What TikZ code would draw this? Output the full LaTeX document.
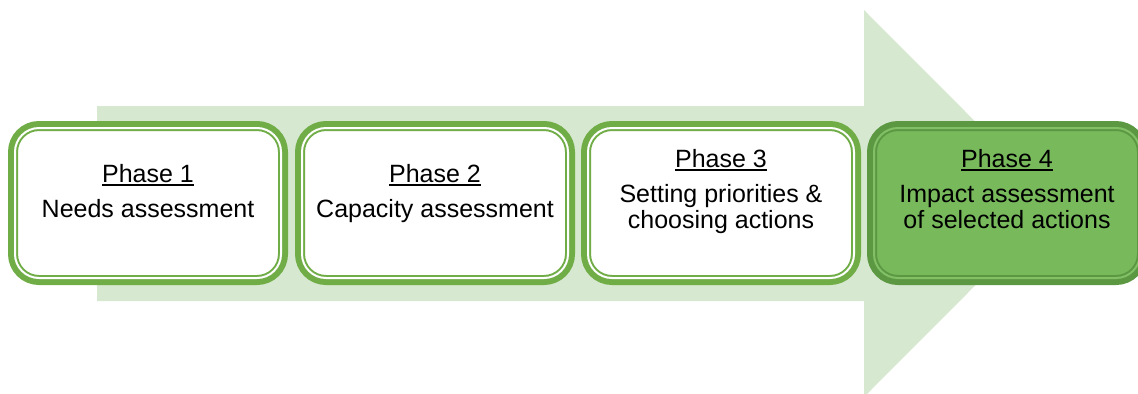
\documentclass[tikz,border=0pt]{standalone}
\usepackage{fontspec}
\setmainfont{Liberation Sans}
\usetikzlibrary{positioning}
\definecolor{arrowgreen}{RGB}{214,232,207}
\definecolor{linegreen}{RGB}{112,173,71}
\definecolor{lastfill}{RGB}{120,185,92}
\definecolor{lastline}{RGB}{92,152,66}
\definecolor{lastgap}{RGB}{130,192,102}
\tikzset{phasebox/.style={draw=linegreen, fill=white, line width=7.5pt, rounded corners=19.5pt,
    minimum width=202.5pt, minimum height=115.5pt, outer sep=0pt, inner sep=0pt}}
\tikzset{lastbox/.style={phasebox, draw=lastline, fill=lastfill}}
\tikzset{gapline/.style={draw=white, line width=1.5pt, rounded corners=18pt}}
\tikzset{phasetext/.style={anchor=base, align=center, font=\fontsize{18.75}{19.5}\selectfont}}
\newcommand\phaseul[1]{\setbox0\hbox{#1}\rlap{\rule[-2.8pt]{\wd0}{1.3pt}}\box0}

\begin{document}
\begin{tikzpicture}[x=0.75pt, y=-0.75pt]

\def \gap {2} % inset of the thin white line, in px
\useasboundingbox (0,0) rectangle (1138,393);

% big arrow behind the phases
\fill[arrowgreen] (97,106) -- (864,106) -- (864,10) -- (1057,203.5)
  -- (864,397) -- (864,301) -- (97,301) -- cycle;

% base anchor sits on the last line of each text
  \node[phasebox] (p1) at (148,203) {};
  \draw[gapline] ([shift={(\gap,\gap)}]p1.north west) rectangle ([shift={(-\gap,-\gap)}]p1.south east);
  \node[phasetext] (t1) at (148,217) {\phaseul{Phase 1}\\[6.75pt]Needs assessment};

  \node[phasebox] (p2) at (435,203) {};
  \draw[gapline] ([shift={(\gap,\gap)}]p2.north west) rectangle ([shift={(-\gap,-\gap)}]p2.south east);
  \node[phasetext] (t2) at (435,217) {\phaseul{Phase 2}\\[6.75pt]Capacity assessment};

  \node[phasebox] (p3) at (721,203) {};
  \draw[gapline] ([shift={(\gap,\gap)}]p3.north west) rectangle ([shift={(-\gap,-\gap)}]p3.south east);
  \node[phasetext] (t3) at (721,228) {\phaseul{Phase 3}\\[6.75pt]Setting priorities \&\\choosing actions};

  \node[lastbox] (p4) at (1007,203) {};
  \draw[gapline, draw=lastgap] ([shift={(\gap,\gap)}]p4.north west) rectangle ([shift={(-\gap,-\gap)}]p4.south east);
  \node[phasetext] (t4) at (1007,228) {\phaseul{Phase 4}\\[6.75pt]Impact assessment\\of selected actions};

\end{tikzpicture}
\end{document}
